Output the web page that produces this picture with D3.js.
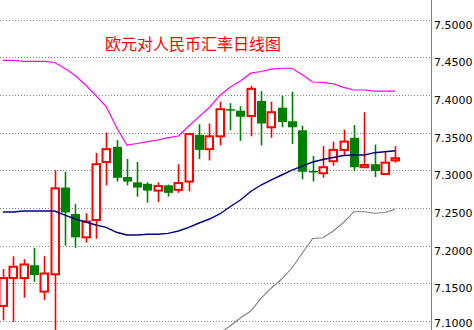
<!DOCTYPE html>
<html>
<head>
<meta charset="utf-8">
<script src="https://cdn.jsdelivr.net/npm/d3@7"></script>
<style>
  html, body { margin: 0; padding: 0; background: #fff; }
  svg { display: block; }
</style>
</head>
<body>
<svg id="chart" width="474" height="330"></svg>
<script>
// ---- data ----
const title = "欧元对人民币汇率日线图";
const tickValues = [7.1, 7.15, 7.2, 7.25, 7.3, 7.35, 7.4, 7.45, 7.5];
const tickLabels = ["7.1000","7.1500","7.2000","7.2500","7.3000","7.3500","7.4000","7.4500","7.5000"];
const days = d3.range(39).map(i => "D" + (i + 1));

const open  = [7.120,7.157,7.157,7.174,7.139,7.162,7.277,7.242,7.211,7.234,7.311,7.331,7.291,7.284,7.282,7.273,7.280,7.274,7.285,7.347,7.328,7.345,7.381,7.379,7.372,7.392,7.357,7.383,7.365,7.353,7.299,7.296,7.312,7.327,7.343,7.304,7.308,7.295,7.313];
const high  = [7.169,7.186,7.182,7.197,7.186,7.300,7.298,7.255,7.243,7.323,7.350,7.340,7.315,7.311,7.284,7.284,7.281,7.308,7.348,7.361,7.362,7.391,7.389,7.385,7.412,7.405,7.391,7.399,7.404,7.359,7.319,7.332,7.338,7.354,7.360,7.377,7.334,7.324,7.332];
const low   = [7.101,7.099,7.131,7.152,7.128,7.085,7.200,7.197,7.204,7.209,7.280,7.285,7.280,7.265,7.257,7.258,7.265,7.270,7.272,7.315,7.313,7.333,7.353,7.339,7.345,7.333,7.343,7.357,7.335,7.288,7.285,7.290,7.306,7.319,7.299,7.303,7.291,7.295,7.310];
const close = [7.157,7.172,7.175,7.161,7.163,7.276,7.244,7.211,7.232,7.308,7.328,7.290,7.285,7.277,7.273,7.279,7.270,7.283,7.348,7.327,7.345,7.381,7.379,7.371,7.408,7.362,7.377,7.364,7.357,7.298,7.297,7.304,7.327,7.338,7.304,7.307,7.299,7.310,7.316];

const upperBand  = [7.4459,7.4459,7.4445,7.4445,7.4445,7.4430,7.4350,7.4257,7.4131,7.3992,7.3846,7.3567,7.3335,7.3355,7.3380,7.3401,7.3433,7.3454,7.3587,7.3712,7.3833,7.3992,7.4100,7.4184,7.4288,7.4310,7.4341,7.4353,7.4353,7.4266,7.4171,7.4167,7.4147,7.4100,7.4065,7.4065,7.4051,7.4051,7.4051];
const middleBand = [7.2446,7.2446,7.2459,7.2459,7.2459,7.2459,7.2404,7.2353,7.2313,7.2274,7.2243,7.2177,7.2141,7.2141,7.2150,7.2150,7.2163,7.2194,7.2243,7.2300,7.2353,7.2420,7.2516,7.2605,7.2718,7.2804,7.2871,7.2937,7.3003,7.3056,7.3109,7.3143,7.3169,7.3196,7.3202,7.3202,7.3233,7.3246,7.3259];
const lowerBand  = [null,null,null,null,null,null,null,null,null,null,null,null,null,null,null,null,null,null,null,null,null,7.0841,7.0934,7.1040,7.1133,7.1299,7.1438,7.1557,7.1703,7.1902,7.2095,7.2105,7.2194,7.2307,7.2450,7.2449,7.2429,7.2439,7.2482];

// ---- layout ----
const W = 474, H = 330;
const axisX = 431;
const svg = d3.select("#chart");

const x = d3.scaleLinear().domain([0, days.length - 1]).range([3, 395.2]);
const y = d3.scaleLinear().domain([7.1, 7.5]).range([321, 19.5]);

svg.append("rect").attr("width", W).attr("height", H).attr("fill", "#fff");

const defs = svg.append("defs");
defs.append("clipPath").attr("id", "plot")
  .append("rect").attr("x", 0).attr("y", 0).attr("width", axisX).attr("height", H);

// grid
svg.append("g").selectAll("line").data(tickValues).join("line")
  .attr("x1", 0).attr("x2", axisX)
  .attr("y1", d => Math.round(y(d)) + 0.5).attr("y2", d => Math.round(y(d)) + 0.5)
  .attr("stroke", "#808080").attr("stroke-width", 1).attr("stroke-dasharray", "1,2");

// axis line
svg.append("line").attr("x1", axisX + 0.5).attr("x2", axisX + 0.5).attr("y1", 0).attr("y2", H)
  .attr("stroke", "#808080").attr("stroke-width", 1);

// axis labels
svg.append("g").selectAll("text").data(tickValues).join("text")
  .attr("x", axisX + 3).attr("y", d => Math.min(Math.round(y(d)) + 8.5, 327))
  .attr("font-family", "DejaVu Sans, Verdana, sans-serif").attr("font-size", 11)
  .attr("fill", "#000")
  .text((d, i) => tickLabels[i]);

// title
svg.append("text").attr("x", 105).attr("y", 50)
  .attr("font-family", "Noto Sans CJK SC, sans-serif").attr("font-size", 16)
  .attr("fill", "#ff0000").text(title);

const plot = svg.append("g").attr("clip-path", "url(#plot)");

// candles
const idx = d3.range(days.length);
const cg = plot.append("g");
const up = i => close[i] >= open[i];
cg.selectAll("line.wick").data(idx).join("line")
  .attr("class", "wick")
  .attr("x1", i => Math.round(x(i)) + 0.5).attr("x2", i => Math.round(x(i)) + 0.5)
  .attr("y1", i => y(high[i])).attr("y2", i => y(low[i]))
  .attr("stroke", i => up(i) ? "#ff0000" : "#008000").attr("stroke-width", 1.6);

cg.selectAll("rect.body").data(idx).join("rect")
  .attr("class", "body")
  .attr("x", i => up(i) ? Math.round(x(i)) - 3.5 : Math.round(x(i)) - 4)
  .attr("width", i => up(i) ? 7.5 : 9)
  .attr("y", i => up(i) ? y(close[i]) : y(open[i]))
  .attr("height", i => Math.max(1.5, Math.abs(y(open[i]) - y(close[i]))))
  .attr("fill", i => up(i) ? "#fff" : "#008000")
  .attr("stroke", i => up(i) ? "#ff0000" : "none")
  .attr("stroke-width", 2);

// bands
const line = d3.line().defined(d => d != null).x((d, i) => x(i)).y(d => y(d));
plot.append("path").datum(upperBand).attr("d", line)
  .attr("fill", "none").attr("stroke", "#ff00ff").attr("stroke-width", 1.2);
plot.append("path").datum(middleBand).attr("d", line)
  .attr("fill", "none").attr("stroke", "#000080").attr("stroke-width", 1.4);
plot.append("path").datum(lowerBand).attr("d", line)
  .attr("fill", "none").attr("stroke", "#808080").attr("stroke-width", 1.1);
</script>
</body>
</html>
